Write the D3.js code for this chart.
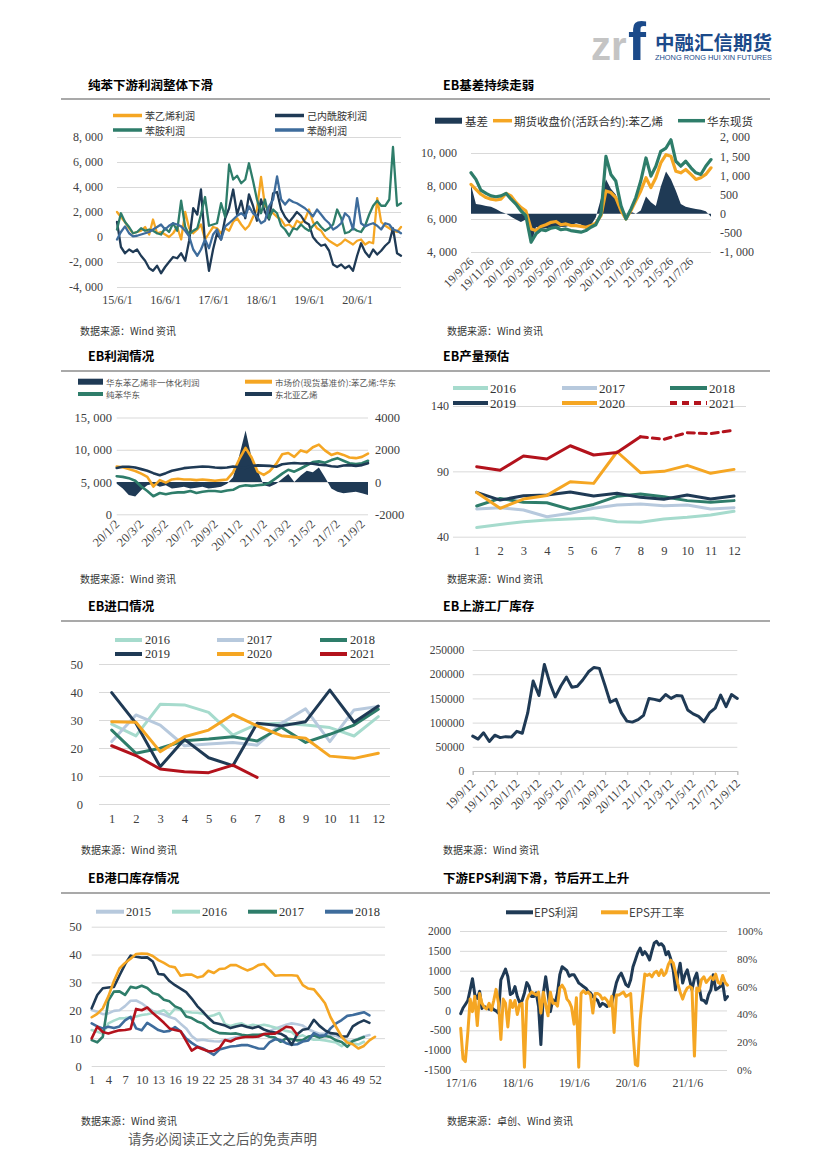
<!DOCTYPE html>
<html lang="zh-CN">
<head>
<meta charset="utf-8">
<title>EB</title>
<script src="https://cdn.jsdelivr.net/npm/d3@7/dist/d3.min.js"></script>
<style>
  html, body { margin: 0; padding: 0; background: #fff; }
  svg { display: block; }
</style>
</head>
<body>
<svg id="page" width="826" height="1169"></svg>
<script>
// ---- 纯苯下游利润 (monthly from 15/6/1) ----
const c1Ticks = ['15/6/1', '16/6/1', '17/6/1', '18/6/1', '19/6/1', '20/6/1'];
const styreneProfit = [2000, 1600, 1200, 700, 300, 400, 500, 800, 200, 1400,
  300, 400, 200, 0, 300, 800, -200, 2000, 700, 300,
  600, 1000, -200, 300, 800, 700, 300, 700, 500, 1200,
  1500, 1000, 600, 900, 1600, 2200, 4800, 2500, 2200, 1900,
  1600, 1400, 900, 1000, 700, 1300, 1100, 1400, 2200, 1200,
  700, 500, 0, -300, -500, -700, -500, -200, -400, -600,
  -300, -200, -600, -400, -500, 3100, 1200, 900, 700, 500,
  400, 800];
const caprolactamProfit = [1200, -800, -1300, -1000, -1200, -1000, -1500, -1900, -2500, -2700,
  -2300, -2900, -2400, -2000, -1600, -1700, -1300, -1900, -300, 2300,
  1800, 3800, -500, -2700, -1000, 300, -200, 1500, 2300, 3800,
  1800, 2900, 1500, 3400, 2500, 1300, 3000, 2000, 1400, 3500,
  3600, 2200, 1600, 1200, 1600, 2000, 1700, 1200, 1000, 0,
  -400, -700, -600, -1100, -2200, -2400, -2200, -2500, -2300, -2700,
  -1500, -500, -1200, -1600, -1000, -1400, -1100, -700, -400, 700,
  -1300, -1500];
const anilineProfit = [600, 1900, 1200, 800, 300, 400, 700, 500, 600, 500,
  300, 200, 700, 400, 1100, 500, 2900, 800, 200, 500,
  700, 1800, 3200, 900, 1000, 1100, 2700, 1600, 5800, 4600,
  4900, 4300, 4600, 5900, 4500, 3000, 1900, 3000, 1500, 2200,
  1900, 900, 600, 100, 700, 600, 1000, 700, 500, 900,
  1200, 800, 500, 700, 1000, 2200, 1500, 300, 400, 700,
  500, 400, 900, 1800, 2500, 2900, 2500, 2500, 3000, 7200,
  2500, 2700];
const phenolProfit = [-200, 400, 850, 300, 50, 100, 200, 300, 400, 600,
  800, 1000, 600, 900, 1100, 1000, 850, 500, 50, -1000,
  -1500, -1000, -200, -900, 200, 600, -200, 850, 1100, 1400,
  1700, 1900, 1650, 2450, 1900, 1650, 1100, 1300, 2450, 3000,
  4850, 3000, 2600, 3000, 2800, 2700, 2500, 2300, 2000, 1650,
  2200, 1800, 1400, 1100, 600, 800, 1100, 1900, 1600, 600,
  3100, 1100, 850, 1000, 1100, 900, 600, 1100, 1000, 600,
  500, 300];

// ---- EB基差 (half-month from 19/9/26) ----
const c2Ticks = ['19/9/26', '19/11/26', '20/1/26', '20/3/26', '20/5/26', '20/7/26',
  '20/9/26', '20/11/26', '21/1/26', '21/3/26', '21/5/26', '21/7/26'];
const ebBasis = [750, 250, 230, 200, 180, 120, 50, 0, -80, -150, -220, -150,
  -800, -350, -400, -380, -360, -330, -350, -340, -300, -250, -280, -400,
  -300, -100, 400, 900, 650, 500, 150, 0, 50, 0, 80, 450,
  300, 200, 700, 1100, 900, 600, 250, 180, 150, 120, 100, 60, -80];
const futuresClose = [8100, 7800, 7500, 7300, 7200, 7150, 7200, 7550, 7400, 7000, 6700, 6500,
  5400, 5300, 5550, 5650, 5800, 5850, 5650, 5700, 5600, 5600, 5550, 5500,
  5600, 5750, 6200, 7700, 7600, 7300, 6500, 6000, 6500, 7100, 7700, 8500,
  7900, 8500, 9400, 9900, 9800, 8900, 8800, 9000, 8700, 8400, 8500, 8700, 9100];
const spotEast = [8800, 8400, 7750, 7550, 7400, 7350, 7400, 7550, 7200, 6900, 6500, 6200,
  4600, 5100, 5350, 5300, 5450, 5500, 5350, 5400, 5300, 5250, 5200, 5300,
  5500, 5650, 6300, 9800, 8700, 8300, 6800, 6000, 6600, 7300, 8300, 9700,
  8600, 9200, 10100, 10300, 10800, 9500, 9200, 9500, 9100, 8800, 8700, 9200, 9600];

// ---- EB利润情况 (half-month from 20/1/2) ----
const c3Ticks = ['20/1/2', '20/3/2', '20/5/2', '20/7/2', '20/9/2', '20/11/2',
  '21/1/2', '21/3/2', '21/5/2', '21/7/2', '21/9/2'];
const ebNonIntProfit = [-100, -400, -800, -900, -500, -200, -100, -300, -200, -400,
  -350, -300, -400, -350, -300, -400, -350, -300, -100, 300,
  1600, 3200, 1500, 700, -200, -300, -100, 200, 500, 0,
  400, 700, 600, 900, 300, -400, -600, -700, -650, -600,
  -700, -800];
const styreneEast = [7400, 7300, 7000, 6700, 6300, 5800, 4300, 5300, 4900, 5400,
  5500, 5400, 5400, 5300, 5400, 5300, 5200, 5300, 5400, 6500,
  8500, 10300, 8800, 6600, 6100, 6700, 7800, 9300, 9500, 8900,
  9900, 9600, 10400, 10800, 9900, 9200, 9500, 9200, 8800, 8700,
  8900, 9400];
const benzeneEast = [5900, 5800, 5600, 5200, 4300, 3600, 2800, 3300, 3100, 3300,
  3400, 3400, 3600, 3300, 3500, 3600, 3600, 3500, 3700, 3800,
  4300, 4500, 4400, 4500, 4600, 4900, 5600, 6300, 6900, 6600,
  7100, 7600, 8100, 8200, 8000, 8400, 8700, 8300, 7900, 7800,
  7900, 8300];
const ethyleneNEA = [870, 950, 950, 900, 800, 700, 550, 420, 550, 700,
  780, 860, 900, 930, 960, 950, 900, 880, 900, 960,
  920, 880, 1000, 1030, 1020, 1000, 950, 1100, 1150, 1180,
  1150, 1160, 1130, 1080, 1050, 980, 950, 1020, 1050, 1000,
  1050, 1170];

// ---- EB产量预估 ----
const months = [1, 2, 3, 4, 5, 6, 7, 8, 9, 10, 11, 12];
const prod2016 = [47, 49.4, 51.5, 52.8, 53.5, 54.3, 51.5, 51, 53.5, 54.8, 56.6, 59.4];
const prod2017 = [61.2, 62.2, 60.4, 55.3, 57.9, 61.7, 64.2, 65, 63.7, 64.2, 61.2, 62.2];
const prod2018 = [63.5, 69.3, 66.3, 66, 60.9, 64.7, 70.9, 72.7, 70.6, 67.6, 66.3, 67.6];
const prod2019 = [73.9, 68, 71.4, 71.9, 74.2, 71.1, 73.2, 70.1, 68.6, 71.9, 68.8, 71.1];
const prod2020 = [73.9, 61.7, 68.8, 71.6, 82.1, 80.8, 105, 89, 90, 94.6, 88.5, 91.5];
const prod2021 = [93.6, 90.8, 101.7, 99.4, 109.6, 102.5, 104.5, 116.5];
const prod2021Est = [116.5, 114.5, 119.6, 118.8, 121.6];   // months 8-12, 预估
const prod2021EstMonths = [8, 9, 10, 11, 12];

// ---- EB进口情况 ----
const imp2016 = [28.5, 24.3, 35.6, 35.4, 32.7, 24.6, 28.5, 28.8, 28.2, 27.3, 24.3, 31.2];
const imp2017 = [22.3, 31.8, 28.2, 20.8, 21.4, 22, 21, 28.8, 34, 22.3, 33.6, 34.8];
const imp2018 = [26.4, 18.1, 19.9, 22.6, 23.2, 24, 22.5, 27.4, 22, 24.9, 28.2, 33.8];
const imp2019 = [39.8, 28.8, 13.3, 23.1, 16.5, 13.7, 28.8, 27.9, 29.4, 40.7, 29.2, 35];
const imp2020 = [29.4, 29.2, 18.7, 24, 26.4, 32, 27.9, 24.4, 23.5, 17.1, 16.3, 18.1];
const imp2021 = [20.8, 17.3, 12.5, 11.5, 11.2, 13.9, 9.5];

// ---- EB上游工厂库存 (half-month from 19/9/12) ----
const c6Ticks = ['19/9/12', '19/11/12', '20/1/12', '20/3/12', '20/5/12', '20/7/12', '20/9/12',
  '20/11/12', '21/1/12', '21/3/12', '21/5/12', '21/7/12', '21/9/12'];
const factoryStock = [72000, 66000, 79000, 61000, 74000, 69000, 71000, 70000, 82000, 78000,
  120000, 186000, 156000, 220000, 182000, 153000, 176000, 194000, 173000, 175000,
  188000, 205000, 214000, 212000, 178000, 142000, 148000, 120000, 103000, 101000,
  106000, 115000, 150000, 148000, 145000, 158000, 150000, 156000, 155000, 126000,
  118000, 113000, 102000, 120000, 130000, 157000, 133000, 158000, 150000];

// ---- EB港口库存 (weekly) ----
const portWeekTicks = [1, 4, 7, 10, 13, 16, 19, 22, 25, 28, 31, 34, 37, 40, 43, 46, 49, 52];
const port2015 = [20.1, 19.5, 18.6, 18.9, 19.8, 20, 21.5, 23.4, 23.5, 22.5, 21, 19.8, 19, 18.5, 17.6, 17,
  15.2, 13.5, 10.8, 9.2, 9.4, 9.1, 8.9, 8.8, 9.3, 9.8, 10.3, 10.7, 11, 11, 10.5, 11.4, 12.6, 13.4,
  14.1, 14.8, 15.3, 15, 14.5, 13.2, 12.3, 11.6, 11.6, 11.2, 10.8, 10.2, 9, 9, 9.8, 10.6, 11.1];
const port2016 = [12.9, 12.3, 11.7, 15.3, 16.3, 17.1, 17.2, 17.5, 17.8, 18.3, 18.6, 19, 19.4, 20, 18.3,
  20.6, 20.1, 19.5, 19.2, 19.1, 18.8, 17.8, 18.2, 19, 15, 14.4, 15, 15.3, 14.3, 14.8, 14.4, 14.8,
  14.4, 13.8, 13.2, 12.6, 12.2, 10.5, 11, 10, 9.4, 9.4, 9.2, 8.8, 8.4, 7.1, 8.7, 8.2, 7.7, 8.7];
const port2017 = [9.3, 8.5, 10.5, 23.5, 26.7, 26.8, 25.5, 28.4, 28, 28.8, 28, 26.2, 25.6, 23.8, 23.2,
  21.4, 20.6, 17.8, 17.2, 16, 15.3, 13.7, 12.6, 11.8, 11.7, 11.6, 11.7, 11.2, 10.9, 11.2, 11.2, 11.4,
  10.5, 10.2, 8.7, 9.9, 9.6, 9.2, 9.3, 10.6, 10.9, 10.2, 10.8, 10.4, 9.2, 8.6, 6.9, 9, 9.6, 10.4];
const port2018 = [15.3, 14.2, 13.5, 14.1, 13.6, 14.2, 16.4, 17.6, 13.5, 12.8, 15.5, 14.2, 12.9, 12.3,
  12.6, 14, 12.5, 9.9, 8.3, 7, 6.3, 5.2, 4, 5.9, 6.5, 7, 7.2, 7.5, 7.5, 6.9, 6.3, 6.2, 8.5, 9.6, 9.3,
  8.2, 7.6, 7.8, 8.8, 9.2, 11.8, 10.8, 11, 13.5, 15.3, 16.5, 18, 18.3, 18.8, 19.3, 18.2];
const port2019 = [20.7, 25.5, 27.9, 28.2, 28.4, 32.5, 36.5, 39.6, 39.2, 38.9, 39, 37.5, 33, 32.8, 30.5,
  29, 27.8, 26.5, 24.2, 21.5, 19.5, 17.3, 15.5, 15.1, 14.5, 13.6, 14.2, 14.6, 14, 13.6, 14.2, 13.1,
  12.4, 12, 11.6, 10.5, 7.6, 11.4, 13, 13.4, 16.6, 14.4, 12.8, 11.8, 11.6, 10.6, 10.6, 14.2, 15.5,
  16.4, 15.5];
const port2020 = [17.5, 18.7, 20.7, 25, 30.5, 35, 37, 38.5, 40.2, 40.4, 40.3, 39.5, 38, 37, 35.8, 35.4,
  32.4, 32.8, 32.8, 31.8, 32.2, 34.2, 33.4, 34.8, 35, 36.2, 36.2, 35.2, 34.3, 35, 36.2, 36.6, 34.6,
  32.4, 32.6, 32.6, 32.6, 32.4, 29, 27.8, 27.5, 25.1, 22.5, 17.5, 14, 10.5, 8.4, 7.8, 6.3, 7.2, 9.2,
  10.5];
const port2021 = [9.9, 14.1, 12.2, 11.7, 12.3, 12.8, 12.9, 13.3, 20.5, 20, 21, 19, 17.3, 15.5, 13.5,
  12.9, 12.5, 9, 5.5, 6.8, 6, 5.3, 5.4, 6.5, 9.3, 8.8, 9.8, 10.2, 10.5, 10.4, 10.6, 11.5, 11.6, 11.6,
  12.8, 14.1, 13.8, 11.2];

// ---- EPS (half-month from 17/1/6) ----
const c8Ticks = ['17/1/6', '18/1/6', '19/1/6', '20/1/6', '21/1/6'];
const epsProfit = [-80, 60, 150, 250, 520, 800, 400, 300, 480, 50,
  100, 60, 30, 80, 20, -10, -70, 770, 900, 1040,
  850, 400, 440, 600, 350, 200, 250, 440, 700, 600,
  350, 350, 440, 100, -860, 440, 850, 440, -30, 270,
  180, 440, 900, 1100, 1050, 1000, 860, 900, 900, 800,
  690, 650, 600, 560, 480, 440, 350, 300, 250, 100,
  180, 150, 100, 160, 180, 440, 700, 860, 940, 800,
  650, 600, 770, 1100, 1270, 1450, 1570, 1400, 1480, 1400,
  1270, 1500, 1700, 1740, 1650, 1680, 1610, 1400, 1480, 1300,
  1020, 520, 900, 1190, 690, 900, 1020, 770, 520, 800,
  940, 600, 270, 250, 180, 400, 520, 900, 520, 560,
  600, 690, 270, 350];
const epsRate = [30, 8, 6, 27, 51, 42, 53, 32, 55, 48,
  45, 44, 48, 43, 50, 58, 48, 22, 51, 48,
  31, 50, 45, 50, 40, 47, 48, 2, 50, 54,
  56, 55, 54, 56, 41, 56, 47, 39, 56, 48,
  48, 46, 59, 61, 58, 51, 49, 45, 33, 52,
  2, 55, 57, 55, 56, 54, 41, 55, 55, 54,
  51, 52, 50, 46, 53, 27, 54, 54, 55, 56,
  53, 54, 55, 27, 4, 3, 36, 53, 69, 68,
  69, 67, 70, 71, 68, 72, 68, 70, 76, 79,
  77, 70, 62, 56, 51, 56, 59, 60, 59, 10,
  59, 57, 65, 67, 63, 65, 67, 65, 69, 63,
  62, 68, 63, 61];

// ---------------------------------------------------------------
const SERIF = '"Liberation Serif","DejaVu Serif",serif';
const CJK = '"Noto Sans CJK SC","Noto Sans",sans-serif';
const COL = {
  orange: '#F5A623', navy: '#1F3A55', green: '#2E7D6A', blue: '#3E6C9C',
  teal: '#A6DBCD', grey: '#B7C9DD', red: '#B3121C', grid: '#D9D9D9', tick: '#404040'
};
const page = d3.select('#page');

const parseLabel = s => { const [yy, m, d] = s.split('/').map(Number); return new Date(2000 + yy, m - 1, d); };
const halfMonths = (start, n) => d3.range(n).map(i => d3.timeDay.offset(start, Math.round(i * 365.25 / 24)));
const numFmt = v => (v < 0 ? '-' : '') + d3.format(',')(Math.abs(v)).replace(/,/g, ', ');
const plainFmt = v => (v < 0 ? '-' : '') + Math.abs(v);

function addText(g, x, y, str, o = {}) {
  return g.append('text').attr('x', x).attr('y', y).text(str)
    .attr('font-family', o.family || CJK).attr('font-size', o.size || 11)
    .attr('font-weight', o.weight || 400).attr('fill', o.fill || '#222')
    .attr('dominant-baseline', 'central').attr('text-anchor', o.anchor || 'start');
}

function gridY(g, y, x0, x1, values) {
  g.append('g').attr('transform', `translate(${x0},0)`)
    .call(d3.axisLeft(y).tickValues(values).tickSize(-(x1 - x0)).tickFormat(''))
    .call(a => a.select('.domain').remove())
    .call(a => a.selectAll('line').attr('stroke', COL.grid).attr('stroke-width', 1));
}

function labelsY(g, y, x, values, fmt, size, right) {
  const ax = right ? d3.axisRight(y) : d3.axisLeft(y);
  g.append('g').attr('transform', `translate(${x},0)`)
    .call(ax.tickValues(values).tickSize(0).tickPadding(0).tickFormat(fmt))
    .attr('font-family', SERIF).attr('font-size', size)
    .call(a => a.select('.domain').remove())
    .call(a => a.selectAll('text').attr('fill', COL.tick));
}

function labelsX(g, x, yPos, values, fmt, size, rotate) {
  const a = g.append('g').attr('transform', `translate(0,${yPos})`)
    .call(d3.axisBottom(x).tickValues(values).tickSize(0).tickPadding(0).tickFormat(fmt))
    .attr('font-family', SERIF).attr('font-size', size);
  a.select('.domain').remove();
  a.selectAll('text').attr('fill', COL.tick).attr('dy', '0.35em');
  if (rotate) {
    a.selectAll('text').attr('transform', 'rotate(-45)').attr('text-anchor', 'end').attr('x', -3).attr('y', 3);
  }
}

function drawLine(g, data, x, y, color, width, dash) {
  g.append('path').datum(data)
    .attr('fill', 'none').attr('stroke', color).attr('stroke-width', width)
    .attr('stroke-linejoin', 'round').attr('stroke-linecap', 'round')
    .attr('stroke-dasharray', dash || null)
    .attr('d', d3.line().defined(d => d.v != null).x(d => x(d.k)).y(d => y(d.v)));
}

function legendItem(g, x, y, w, color, label, o = {}) {
  if (o.box) {
    g.append('rect').attr('x', x).attr('y', y - 3).attr('width', w).attr('height', 6).attr('fill', color);
  } else {
    g.append('line').attr('x1', x).attr('x2', x + w).attr('y1', y).attr('y2', y)
      .attr('stroke', color).attr('stroke-width', o.sw || 3).attr('stroke-dasharray', o.dash || null);
  }
  addText(g, x + w + (o.gap || 3), y, label, { size: o.size || 11, family: o.family || CJK, fill: o.fill || '#333' });
}

const zip = (keys, vals) => vals.map((v, i) => ({ k: keys[i], v }));

// ---- page frame ----
function drawFrame() {
  const g = page.append('g');
  // logo
  g.append('text').attr('x', 591).attr('y', 60).text('zr')
    .attr('font-family', '"Liberation Sans",Arial,sans-serif').attr('font-weight', 700)
    .attr('font-size', 40).attr('fill', '#C4C4C4');
  g.append('text').attr('x', 628).attr('y', 60).text('f')
    .attr('font-family', '"Liberation Sans",Arial,sans-serif').attr('font-weight', 700)
    .attr('font-size', 54).attr('fill', '#1B4A8A');
  g.append('text').attr('x', 655).attr('y', 41).text('中融汇信期货')
    .attr('font-family', CJK).attr('font-weight', 700).attr('font-size', 19)
    .attr('fill', '#1B4A8A').attr('dominant-baseline', 'central')
    .attr('textLength', 117).attr('lengthAdjust', 'spacingAndGlyphs');
  g.append('text').attr('x', 655).attr('y', 57).text('ZHONG RONG HUI XIN FUTURES')
    .attr('font-family', '"Liberation Sans",Arial,sans-serif').attr('font-size', 6.5)
    .attr('fill', '#1B4A8A').attr('dominant-baseline', 'central')
    .attr('textLength', 117).attr('lengthAdjust', 'spacingAndGlyphs');

  const rows = [
    { y: 84, line: 99, left: '纯苯下游利润整体下滑', right: 'EB基差持续走弱' },
    { y: 355, line: 371, left: 'EB利润情况', right: 'EB产量预估' },
    { y: 605, line: 621, left: 'EB进口情况', right: 'EB上游工厂库存' },
    { y: 877, line: 893, left: 'EB港口库存情况', right: '下游EPS利润下滑，节后开工上升' }
  ];
  rows.forEach(r => {
    addText(g, 88, r.y, r.left, { size: 12.5, weight: 700, fill: '#000' });
    addText(g, 443, r.y, r.right, { size: 12.5, weight: 700, fill: '#000' });
    g.append('line').attr('x1', 61).attr('x2', 770).attr('y1', r.line).attr('y2', r.line)
      .attr('stroke', '#8C8C8C').attr('stroke-width', 1.5);
  });

  const src = [[80, 330, '数据来源：Wind 资讯'], [447, 330, '数据来源：Wind 资讯'],
    [80, 578, '数据来源：Wind 资讯'], [447, 578, '数据来源：Wind 资讯'],
    [81, 849, '数据来源：Wind 资讯'], [443, 849, '数据来源：Wind 资讯'],
    [81, 1120.5, '数据来源：Wind 资讯'], [447, 1120.5, '数据来源：卓创、Wind 资讯']];
  src.forEach(([x, y, s]) => addText(g, x, y, s, { size: 10, fill: '#333' }));
  addText(g, 128, 1138, '请务必阅读正文之后的免责声明', { size: 13.5, fill: '#5A5A5A' });
}

// ---- 纯苯下游利润整体下滑 ----
function drawC1() {
  const g = page.append('g');
  const dates = d3.range(styreneProfit.length).map(i => d3.timeMonth.offset(new Date(2015, 5, 1), i));
  const x = d3.scaleTime().domain([dates[0], dates[dates.length - 1]]).range([117, 401]);
  const y = d3.scaleLinear().domain([-4000, 8000]).range([287, 137]);
  const yt = d3.range(-4000, 8001, 2000);
  gridY(g, y, 117, 401, yt);
  labelsY(g, y, 103, yt, numFmt, 12);
  labelsX(g, x, 300, c1Ticks.map(parseLabel), (d, i) => c1Ticks[i], 12);
  drawLine(g, zip(dates, styreneProfit), x, y, COL.orange, 2.3);
  drawLine(g, zip(dates, caprolactamProfit), x, y, COL.navy, 2.3);
  drawLine(g, zip(dates, anilineProfit), x, y, COL.green, 2.3);
  drawLine(g, zip(dates, phenolProfit), x, y, COL.blue, 2.3);
  const o = { sw: 3.5, size: 10 };
  legendItem(g, 113, 115.5, 29, COL.orange, '苯乙烯利润', o);
  legendItem(g, 275, 115.5, 29, COL.navy, '己内酰胺利润', o);
  legendItem(g, 113, 130, 29, COL.green, '苯胺利润', o);
  legendItem(g, 275, 130, 29, COL.blue, '苯酚利润', o);
}

// ---- EB基差持续走弱 ----
function drawC2() {
  const g = page.append('g');
  const dates = halfMonths(new Date(2019, 8, 26), spotEast.length);
  const x = d3.scaleTime().domain([dates[0], dates[dates.length - 1]]).range([471, 711]);
  const yL = d3.scaleLinear().domain([4000, 10000]).range([252, 153]);
  const yR = d3.scaleLinear().domain([-1000, 2000]).range([252, 137]);
  gridY(g, yL, 471, 711, d3.range(4000, 10001, 2000));
  labelsY(g, yL, 457, d3.range(4000, 10001, 2000), numFmt, 12);
  labelsY(g, yR, 720, d3.range(-1000, 2001, 500), numFmt, 12, true);
  labelsX(g, x, 255, c2Ticks.map(parseLabel), (d, i) => c2Ticks[i], 12, true);
  g.append('path').datum(zip(dates, ebBasis))
    .attr('fill', COL.navy)
    .attr('d', d3.area().x(d => x(d.k)).y0(yR(0)).y1(d => yR(d.v)));
  drawLine(g, zip(dates, futuresClose), x, yL, COL.orange, 3.2);
  drawLine(g, zip(dates, spotEast), x, yL, COL.green, 3.2);
  legendItem(g, 435, 120.7, 27, COL.navy, '基差', { box: true, size: 11.5 });
  legendItem(g, 493, 120.7, 19, COL.orange, '期货收盘价(活跃合约):苯乙烯', { sw: 3.5, size: 11.5, gap: 2 });
  legendItem(g, 678, 120.7, 27, COL.green, '华东现货', { sw: 3.5, size: 11.5, gap: 2 });
}

// ---- EB利润情况 ----
function drawC3() {
  const g = page.append('g');
  const dates = halfMonths(new Date(2020, 0, 2), styreneEast.length);
  const x = d3.scaleTime().domain([dates[0], dates[dates.length - 1]]).range([116.7, 368]);
  const yL = d3.scaleLinear().domain([0, 15000]).range([514.3, 417.5]);
  const yR = d3.scaleLinear().domain([-2000, 4000]).range([514.3, 417.5]);
  gridY(g, yL, 116.7, 368, d3.range(0, 15001, 5000));
  labelsY(g, yL, 112, d3.range(0, 15001, 5000), numFmt, 12.5);
  labelsY(g, yR, 375, d3.range(-2000, 4001, 2000), plainFmt, 12.5, true);
  labelsX(g, x, 517.5, c3Ticks.map(parseLabel), (d, i) => c3Ticks[i], 12.5, true);
  g.append('path').datum(zip(dates, ebNonIntProfit))
    .attr('fill', COL.navy)
    .attr('d', d3.area().x(d => x(d.k)).y0(yR(0)).y1(d => yR(d.v)));
  drawLine(g, zip(dates, styreneEast), x, yL, COL.orange, 2.6);
  drawLine(g, zip(dates, benzeneEast), x, yL, COL.green, 2.6);
  drawLine(g, zip(dates, ethyleneNEA), x, yR, COL.navy, 2.6);
  const o = { size: 8.5, fill: '#555', sw: 4 };
  legendItem(g, 78, 381.7, 25, COL.navy, '华东苯乙烯非一体化利润', Object.assign({ box: true }, o));
  legendItem(g, 245, 381.7, 27, COL.orange, '市场价(现货基准价):苯乙烯:华东', o);
  legendItem(g, 78, 394, 25, COL.green, '纯苯华东', o);
  legendItem(g, 245, 394, 27, COL.navy, '东北亚乙烯', o);
}

// ---- EB产量预估 ----
function drawC4() {
  const g = page.append('g');
  const x = d3.scalePoint().domain(months).range([476.7, 734]);
  const y = d3.scaleLinear().domain([40, 140]).range([536.7, 406]);
  gridY(g, y, 453, 746, [40, 90, 140]);
  labelsY(g, y, 449, [40, 90, 140], plainFmt, 12);
  labelsX(g, x, 551, months, d => d, 12.5);
  const series = [[prod2016, COL.teal], [prod2017, COL.grey], [prod2018, COL.green],
    [prod2019, COL.navy], [prod2020, COL.orange], [prod2021, COL.red]];
  series.forEach(([vals, c]) => drawLine(g, zip(months, vals), x, y, c, 3));
  drawLine(g, zip(prod2021EstMonths, prod2021Est), x, y, COL.red, 3, '7,5');
  const o = { size: 13, family: SERIF, sw: 4, gap: 2 };
  legendItem(g, 453, 388, 35, COL.teal, '2016', o);
  legendItem(g, 562, 388, 35, COL.grey, '2017', o);
  legendItem(g, 670, 388, 37, COL.green, '2018', o);
  legendItem(g, 453, 403, 35, COL.navy, '2019', o);
  legendItem(g, 562, 403, 35, COL.orange, '2020', o);
  legendItem(g, 670, 403, 37, COL.red, '2021', Object.assign({ dash: '7,5' }, o));
}

// ---- EB进口情况 ----
function drawC5() {
  const g = page.append('g');
  const x = d3.scalePoint().domain(months).range([111.7, 378.3]);
  const y = d3.scaleLinear().domain([0, 50]).range([804, 664]);
  const yt = d3.range(0, 51, 10);
  gridY(g, y, 99, 390, yt);
  labelsY(g, y, 83, yt, plainFmt, 12.5);
  labelsX(g, x, 818.7, months, d => d, 12.5);
  const series = [[imp2016, COL.teal], [imp2017, COL.grey], [imp2018, COL.green],
    [imp2019, COL.navy], [imp2020, COL.orange], [imp2021, COL.red]];
  series.forEach(([vals, c]) => drawLine(g, zip(months, vals), x, y, c, 3));
  const o = { size: 12.5, family: SERIF, sw: 4 };
  legendItem(g, 115, 640, 27, COL.teal, '2016', o);
  legendItem(g, 217, 640, 27, COL.grey, '2017', o);
  legendItem(g, 320, 640, 27, COL.green, '2018', o);
  legendItem(g, 115, 654, 27, COL.navy, '2019', o);
  legendItem(g, 217, 654, 27, COL.orange, '2020', o);
  legendItem(g, 320, 654, 27, COL.red, '2021', o);
}

// ---- EB上游工厂库存 ----
function drawC6() {
  const g = page.append('g');
  const dates = halfMonths(new Date(2019, 8, 12), factoryStock.length);
  const x = d3.scaleTime().domain([dates[0], dates[dates.length - 1]]).range([472.7, 737.3]);
  const y = d3.scaleLinear().domain([0, 250000]).range([771, 650]);
  const yt = d3.range(0, 250001, 50000);
  gridY(g, y, 472.7, 737.3, yt);
  labelsY(g, y, 464.3, yt, plainFmt, 11.5);
  const tickDates = c6Ticks.map(parseLabel);
  g.append('g').attr('transform', 'translate(0,771)')
    .call(d3.axisBottom(x).tickValues(tickDates).tickSize(4).tickFormat(''))
    .call(a => a.selectAll('line, path').attr('stroke', '#BFBFBF'));
  labelsX(g, x, 777, tickDates, (d, i) => c6Ticks[i], 12, true);
  drawLine(g, zip(dates, factoryStock), x, y, COL.navy, 3);
}

// ---- EB港口库存情况 ----
function drawC7() {
  const g = page.append('g');
  const x = d3.scaleLinear().domain([1, 52]).range([91.7, 375]);
  const y = d3.scaleLinear().domain([0, 50]).range([1066, 926.7]);
  const yt = d3.range(0, 51, 10);
  gridY(g, y, 91.7, 385, yt);
  labelsY(g, y, 81.7, yt, plainFmt, 12.5);
  labelsX(g, x, 1080, portWeekTicks, d => d, 12.5);
  const weeks = n => d3.range(1, n + 1);
  const series = [[port2015, COL.grey], [port2016, COL.teal], [port2017, COL.green], [port2018, COL.blue],
    [port2019, COL.navy], [port2020, COL.orange], [port2021, COL.red]];
  series.forEach(([vals, c]) => drawLine(g, zip(weeks(vals.length), vals), x, y, c, 2.6));
  const o = { size: 12.5, family: SERIF, sw: 4, gap: 2 };
  legendItem(g, 96, 911.7, 28, COL.grey, '2015', o);
  legendItem(g, 172, 911.7, 28, COL.teal, '2016', o);
  legendItem(g, 248, 911.7, 29, COL.green, '2017', o);
  legendItem(g, 325, 911.7, 28, COL.blue, '2018', o);
}

// ---- 下游EPS利润下滑，节后开工上升 ----
function drawC8() {
  const g = page.append('g');
  const dates = halfMonths(new Date(2017, 0, 6), epsProfit.length);
  const x = d3.scaleTime().domain([new Date(2017, 0, 6), new Date(2021, 0, 6)]).range([460.7, 687.3]);
  const yL = d3.scaleLinear().domain([-1500, 2000]).range([1070, 931]);
  const yR = d3.scaleLinear().domain([0, 100]).range([1070, 931]);
  const yt = d3.range(-1500, 2001, 500);
  gridY(g, yL, 460, 727, yt);
  labelsY(g, yL, 451, yt, plainFmt, 11.5);
  labelsY(g, yR, 737, d3.range(0, 101, 20), d => d + '%', 11, true);
  labelsX(g, x, 1082.7, c8Ticks.map(parseLabel), (d, i) => c8Ticks[i], 12);
  drawLine(g, zip(dates, epsProfit), x, yL, COL.navy, 3);
  drawLine(g, zip(dates, epsRate), x, yR, COL.orange, 3);
  legendItem(g, 506, 912.3, 27, COL.navy, 'EPS利润', { size: 11.5, sw: 4, fill: '#404040', gap: 1 });
  legendItem(g, 601, 912.3, 27, COL.orange, 'EPS开工率', { size: 11.5, sw: 4, fill: '#404040', gap: 1 });
}

[drawFrame, drawC1, drawC2, drawC3, drawC4, drawC5, drawC6, drawC7, drawC8].forEach(fn => {
  try { fn(); } catch (error) { console.error('描画中にエラーが発生しました:', fn.name, error); }
});
</script>
</body>
</html>
